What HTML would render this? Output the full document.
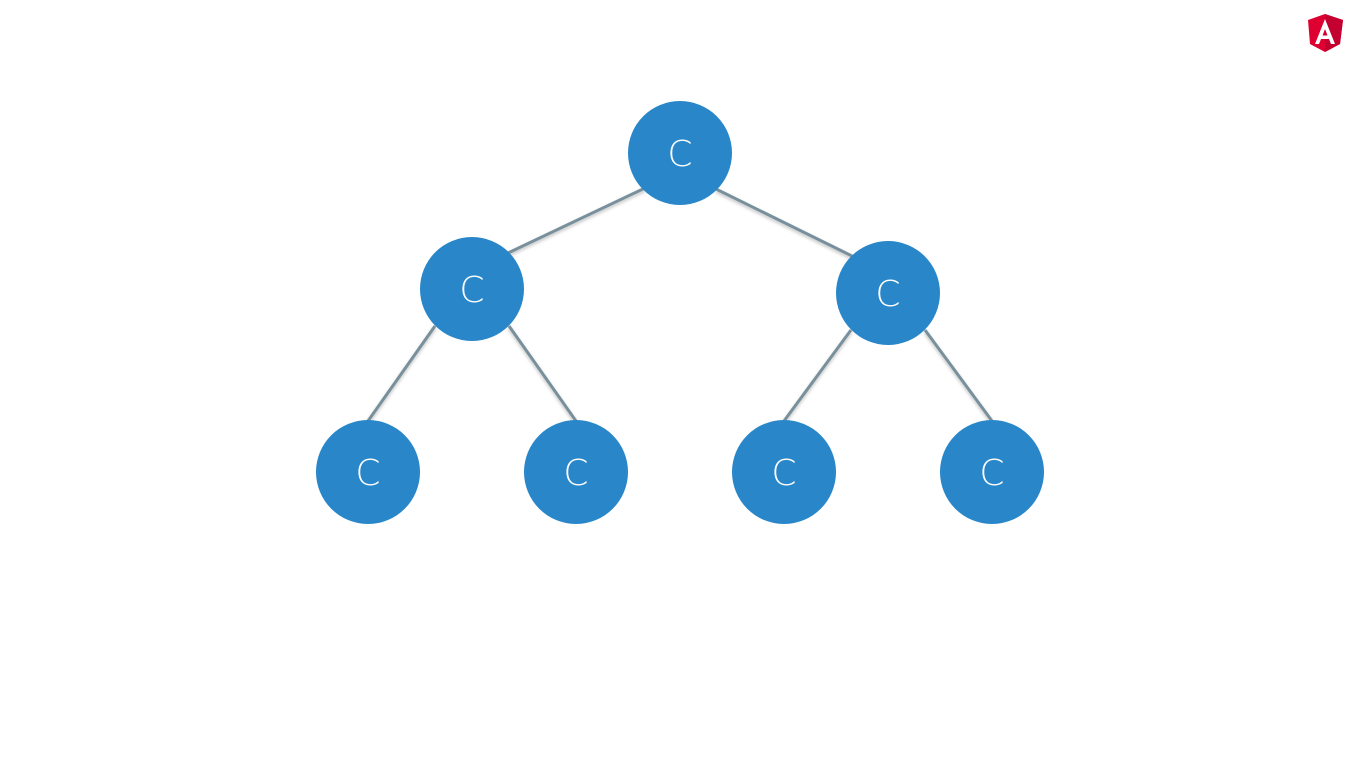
<!DOCTYPE html>
<html><head><style>html,body{margin:0;background:#fff}</style></head><body>
<svg width="1359" height="762" viewBox="0 0 1359 762" xmlns="http://www.w3.org/2000/svg">
<defs><filter id="s" x="-20%" y="-20%" width="140%" height="140%"><feDropShadow dx="0" dy="2" stdDeviation="1.5" flood-color="#000" flood-opacity="0.25"/></filter></defs>
<g stroke="#78909c" stroke-width="3" filter="url(#s)">
<line x1="645" y1="188" x2="508" y2="253"/>
<line x1="716" y1="189" x2="852" y2="256"/>
<line x1="435" y1="326" x2="368" y2="421"/>
<line x1="509" y1="326" x2="576" y2="421"/>
<line x1="851" y1="330" x2="784" y2="421"/>
<line x1="925" y1="330" x2="992" y2="421"/>
</g>
<g fill="#2886c9">
<circle cx="680" cy="153" r="52"/><circle cx="472" cy="289" r="52"/><circle cx="888" cy="293" r="52"/>
<circle cx="368" cy="472" r="52"/><circle cx="576" cy="472" r="52"/><circle cx="784" cy="472" r="52"/><circle cx="992" cy="472" r="52"/>
</g>
<g fill="#fff" font-family="DejaVu Sans, sans-serif" font-size="36" text-anchor="middle" font-weight="200">
<text x="680" y="166">C</text><text x="472" y="302">C</text><text x="888" y="306">C</text>
<text x="368" y="485">C</text><text x="576" y="485">C</text><text x="784" y="485">C</text><text x="992" y="485">C</text>
</g>
<g transform="translate(1308,14)">
<path d="M17 0 L35 6 L32 30 L17 38 L2 30 L0 6 Z" fill="#dd0031"/>
<path d="M17 0 L35 6 L32 30 L17 38 Z" fill="#c3002f"/>
<path d="M17 5 L7 30 H11 L13 25 H21 L23 30 H27 Z M14.5 21.5 L17 15 L19.5 21.5 Z" fill="#fff"/>
</g>
</svg>
</body></html>
